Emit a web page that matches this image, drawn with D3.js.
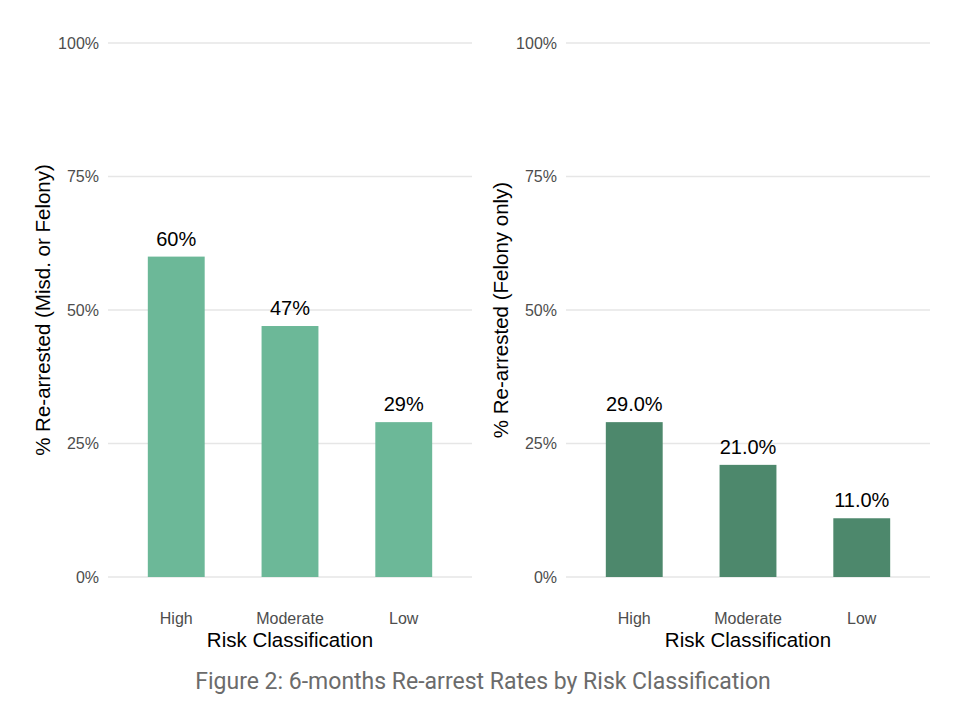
<!DOCTYPE html>
<html>
<head>
<meta charset="utf-8">
<script src="https://cdn.jsdelivr.net/npm/d3@7"></script>
<style>
  body { margin: 0; background: #fff; }
  svg { display: block; }
</style>
</head>
<body>
<div id="chart"></div>
<script>
const categories = ["High", "Moderate", "Low"];
const anyArrest = [60, 47, 29];
const felonyArrest = [29, 21, 11];
const yTicks = [0, 25, 50, 75, 100];
const panelTitles = ["% Re-arrested (Misd. or Felony)", "% Re-arrested (Felony only)"];
const caption = "Figure 2: 6-months Re-arrest Rates by Risk Classification";

const width = 964, height = 728;
const svg = d3.select("#chart").append("svg")
    .attr("width", width)
    .attr("height", height);

const y = d3.scaleLinear().domain([0, 100]).range([577, 43]);
const font = "'Liberation Sans', Arial, sans-serif";

function drawPanel(values, left, right, color, title, labelFmt) {
    const g = svg.append("g");
    const x = d3.scaleBand().domain(categories).range([left, right])
        .paddingInner(0.5).paddingOuter(0.35);

    g.selectAll("line.grid")
        .data(yTicks)
        .join("line").attr("class", "grid")
        .attr("x1", left).attr("x2", right)
        .attr("y1", d => y(d)).attr("y2", d => y(d))
        .attr("stroke", "#e6e6e6")
        .attr("stroke-width", 1.6);

    g.selectAll("text.ytick")
        .data(yTicks)
        .join("text").attr("class", "ytick")
        .attr("x", left - 9)
        .attr("y", d => y(d))
        .attr("dy", "0.35em")
        .attr("text-anchor", "end")
        .style("font-family", font)
        .style("font-size", "16px")
        .style("fill", "#4d4d4d")
        .text(d => d + "%");

    g.selectAll("rect.bar")
        .data(values)
        .join("rect").attr("class", "bar")
        .attr("x", (d, i) => x(categories[i]))
        .attr("width", x.bandwidth())
        .attr("y", d => y(d))
        .attr("height", d => y(0) - y(d))
        .attr("fill", color);

    g.selectAll("text.val")
        .data(values)
        .join("text").attr("class", "val")
        .attr("x", (d, i) => x(categories[i]) + x.bandwidth() / 2)
        .attr("y", d => y(d) - 11)
        .attr("text-anchor", "middle")
        .style("font-family", font)
        .style("font-size", "20px")
        .style("fill", "#000")
        .text(labelFmt);

    g.selectAll("text.xtick")
        .data(categories)
        .join("text").attr("class", "xtick")
        .attr("x", d => x(d) + x.bandwidth() / 2)
        .attr("y", 624)
        .attr("text-anchor", "middle")
        .style("font-family", font)
        .style("font-size", "16px")
        .style("fill", "#4d4d4d")
        .text(d => d);

    g.append("text")
        .attr("x", (left + right) / 2)
        .attr("y", 647)
        .attr("text-anchor", "middle")
        .style("font-family", font)
        .style("font-size", "20.5px")
        .style("fill", "#000")
        .text("Risk Classification");

    g.append("text")
        .attr("transform", `translate(${left - 58},${(y(0) + y(100)) / 2}) rotate(-90)`)
        .attr("text-anchor", "middle")
        .style("font-family", font)
        .style("font-size", "20.5px")
        .style("fill", "#000")
        .text(title);
}

drawPanel(anyArrest, 108, 472, "#6cb898", panelTitles[0], d => d + "%");
drawPanel(felonyArrest, 566, 930, "#4d886c", panelTitles[1], d => d.toFixed(1) + "%");

svg.append("text")
    .attr("x", 483)
    .attr("y", 689)
    .attr("text-anchor", "middle")
    .style("font-family", "Roboto, sans-serif")
    .style("font-size", "23px")
    .style("fill", "#6b6b6b")
    .text(caption);
</script>
</body>
</html>
